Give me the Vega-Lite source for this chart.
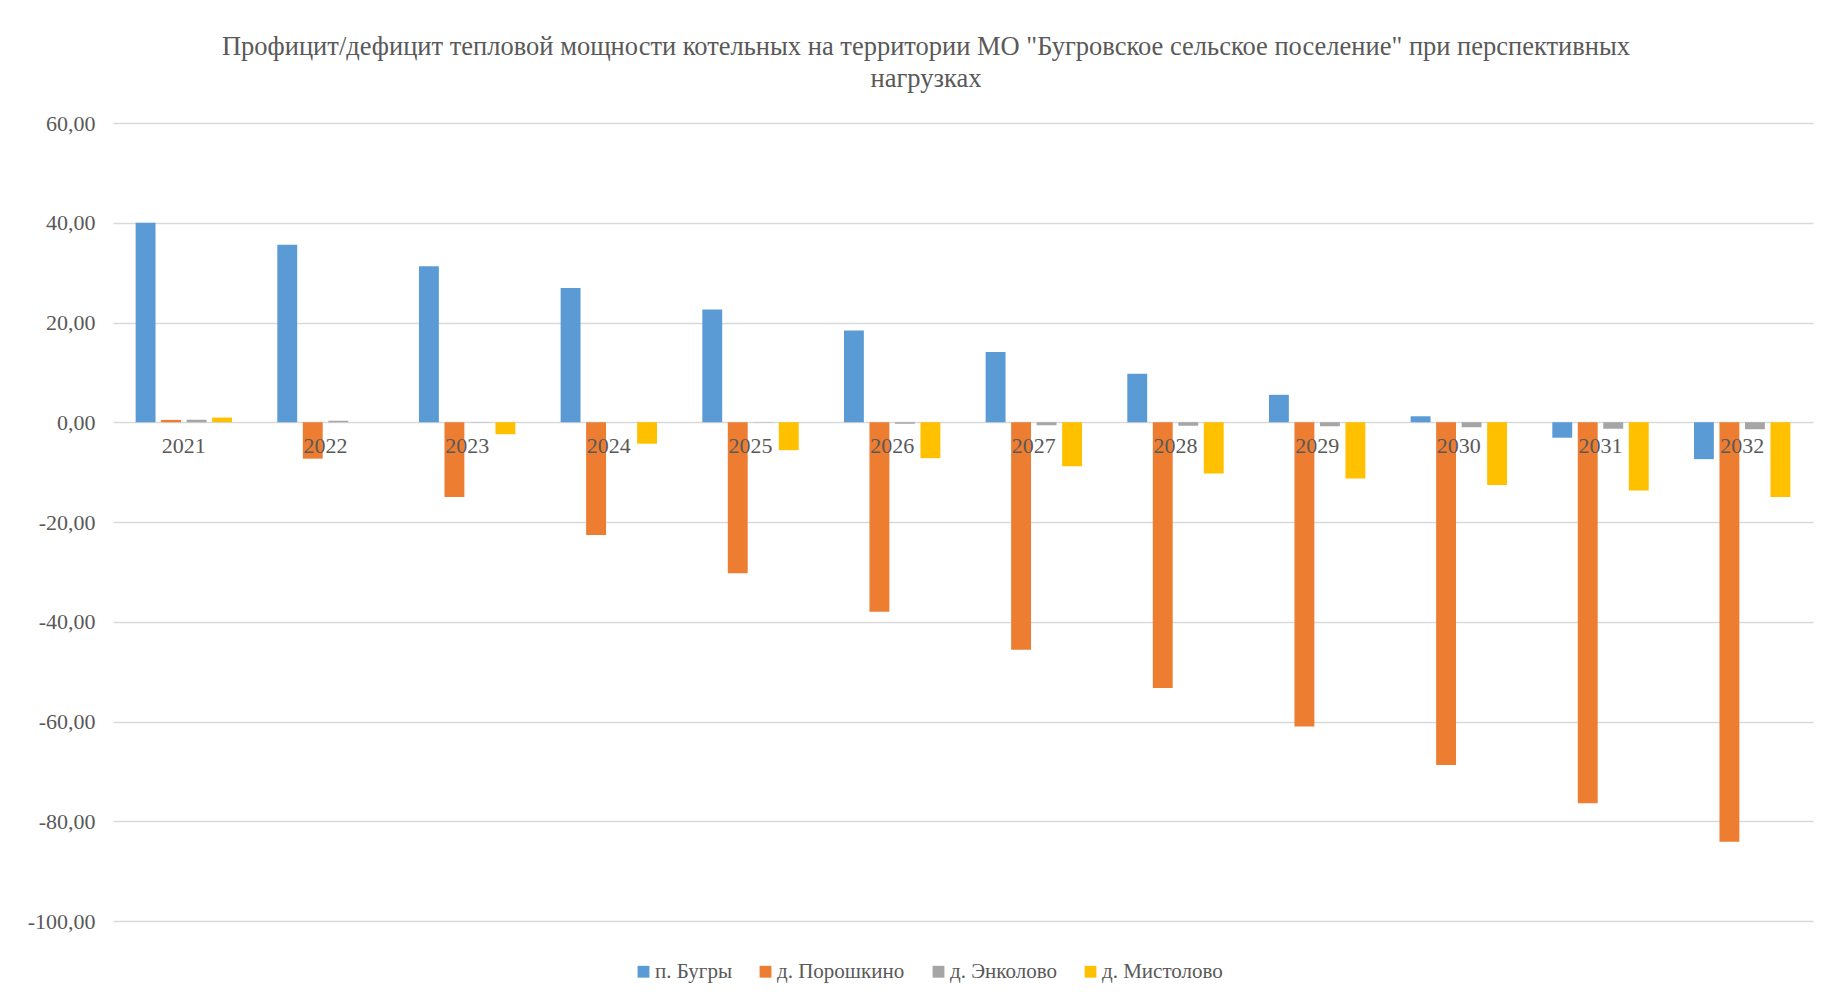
{
  "$schema": "https://vega.github.io/schema/vega-lite/v6.json",
  "autosize": {"type": "none"},
  "padding": {"left": 113, "top": 123, "right": 9, "bottom": 81},
  "width": 1700,
  "height": 798,
  "background": "white",
  "config": {
    "view": {"stroke": null},
    "font": "Liberation Serif"
  },
  "title": {
    "text": ["Профицит/дефицит тепловой мощности котельных на территории МО \"Бугровское сельское поселение\" при перспективных", "нагрузках"],
    "font": "Liberation Serif",
    "fontSize": 26.5,
    "fontWeight": "normal",
    "color": "#595959",
    "anchor": "middle",
    "dx": -37,
    "offset": 20,
    "lineHeight": 32
  },
  "data": {
    "values": [
      {"year": "2021", "series": "п. Бугры", "value": 40.0},
      {"year": "2021", "series": "д. Порошкино", "value": 0.47},
      {"year": "2021", "series": "д. Энколово", "value": 0.5},
      {"year": "2021", "series": "д. Мистолово", "value": 0.94},
      {"year": "2022", "series": "п. Бугры", "value": 35.6},
      {"year": "2022", "series": "д. Порошкино", "value": -7.3},
      {"year": "2022", "series": "д. Энколово", "value": 0.3},
      {"year": "2022", "series": "д. Мистолово", "value": 0.02},
      {"year": "2023", "series": "п. Бугры", "value": 31.3},
      {"year": "2023", "series": "д. Порошкино", "value": -15.0},
      {"year": "2023", "series": "д. Энколово", "value": 0.05},
      {"year": "2023", "series": "д. Мистолово", "value": -2.4},
      {"year": "2024", "series": "п. Бугры", "value": 26.9},
      {"year": "2024", "series": "д. Порошкино", "value": -22.6},
      {"year": "2024", "series": "д. Энколово", "value": 0.0},
      {"year": "2024", "series": "д. Мистолово", "value": -4.3},
      {"year": "2025", "series": "п. Бугры", "value": 22.6},
      {"year": "2025", "series": "д. Порошкино", "value": -30.3},
      {"year": "2025", "series": "д. Энколово", "value": -0.05},
      {"year": "2025", "series": "д. Мистолово", "value": -5.6},
      {"year": "2026", "series": "п. Бугры", "value": 18.4},
      {"year": "2026", "series": "д. Порошкино", "value": -38.0},
      {"year": "2026", "series": "д. Энколово", "value": -0.3},
      {"year": "2026", "series": "д. Мистолово", "value": -7.2},
      {"year": "2027", "series": "п. Бугры", "value": 14.1},
      {"year": "2027", "series": "д. Порошкино", "value": -45.6},
      {"year": "2027", "series": "д. Энколово", "value": -0.6},
      {"year": "2027", "series": "д. Мистолово", "value": -8.8},
      {"year": "2028", "series": "п. Бугры", "value": 9.7},
      {"year": "2028", "series": "д. Порошкино", "value": -53.3},
      {"year": "2028", "series": "д. Энколово", "value": -0.7},
      {"year": "2028", "series": "д. Мистолово", "value": -10.3},
      {"year": "2029", "series": "п. Бугры", "value": 5.5},
      {"year": "2029", "series": "д. Порошкино", "value": -61.0},
      {"year": "2029", "series": "д. Энколово", "value": -0.8},
      {"year": "2029", "series": "д. Мистолово", "value": -11.3},
      {"year": "2030", "series": "п. Бугры", "value": 1.2},
      {"year": "2030", "series": "д. Порошкино", "value": -68.7},
      {"year": "2030", "series": "д. Энколово", "value": -1.0},
      {"year": "2030", "series": "д. Мистолово", "value": -12.6},
      {"year": "2031", "series": "п. Бугры", "value": -3.1},
      {"year": "2031", "series": "д. Порошкино", "value": -76.4},
      {"year": "2031", "series": "д. Энколово", "value": -1.3},
      {"year": "2031", "series": "д. Мистолово", "value": -13.7},
      {"year": "2032", "series": "п. Бугры", "value": -7.4},
      {"year": "2032", "series": "д. Порошкино", "value": -84.1},
      {"year": "2032", "series": "д. Энколово", "value": -1.4},
      {"year": "2032", "series": "д. Мистолово", "value": -15.0}
    ]
  },
  "layer": [
    {
      "mark": {"type": "bar"},
      "encoding": {
        "x": {
          "field": "year", "type": "nominal", "sort": null,
          "scale": {"paddingInner": 0.28, "paddingOuter": 0.14},
          "axis": null
        },
        "xOffset": {
          "field": "series", "type": "nominal",
          "sort": ["п. Бугры", "д. Порошкино", "д. Энколово", "д. Мистолово"],
          "scale": {"paddingInner": 0.22, "paddingOuter": 0.11}
        },
        "y": {
          "field": "value", "type": "quantitative",
          "scale": {"domain": [-100, 60], "nice": false, "zero": false},
          "axis": {
            "title": null,
            "values": [-100, -80, -60, -40, -20, 0, 20, 40, 60],
            "labelExpr": "(datum.value < 0 ? '-' : '') + replace(format(abs(datum.value), '.2f'), '.', ',')",
            "labelFont": "Liberation Serif",
            "labelFontSize": 22,
            "labelColor": "#595959",
            "labelPadding": 18,
            "ticks": false,
            "domain": false,
            "grid": true,
            "gridColor": "#d9d9d9",
            "gridWidth": 1.5
          }
        },
        "color": {
          "field": "series", "type": "nominal",
          "sort": ["п. Бугры", "д. Порошкино", "д. Энколово", "д. Мистолово"],
          "scale": {
            "domain": ["п. Бугры", "д. Порошкино", "д. Энколово", "д. Мистолово"],
            "range": ["#5b9bd5", "#ed7d31", "#a5a5a5", "#ffc000"]
          },
          "legend": {
            "title": null,
            "orient": "none",
            "direction": "horizontal",
            "legendX": 520,
            "legendY": 838,
            "symbolType": "square",
            "symbolSize": 140,
            "symbolStrokeWidth": 0,
            "labelFont": "Liberation Serif",
            "labelFontSize": 21,
            "labelColor": "#595959",
            "labelOffset": 1,
            "columnPadding": 23
          }
        }
      }
    },
    {
      "transform": [{"filter": "datum.series === 'п. Бугры'"}],
      "mark": {"type": "text", "dy": 24, "baseline": "middle", "align": "center", "font": "Liberation Serif", "fontSize": 22, "color": "#595959"},
      "encoding": {
        "x": {"field": "year", "type": "nominal", "sort": null},
        "y": {"datum": 0},
        "text": {"field": "year"}
      }
    }
  ]
}
